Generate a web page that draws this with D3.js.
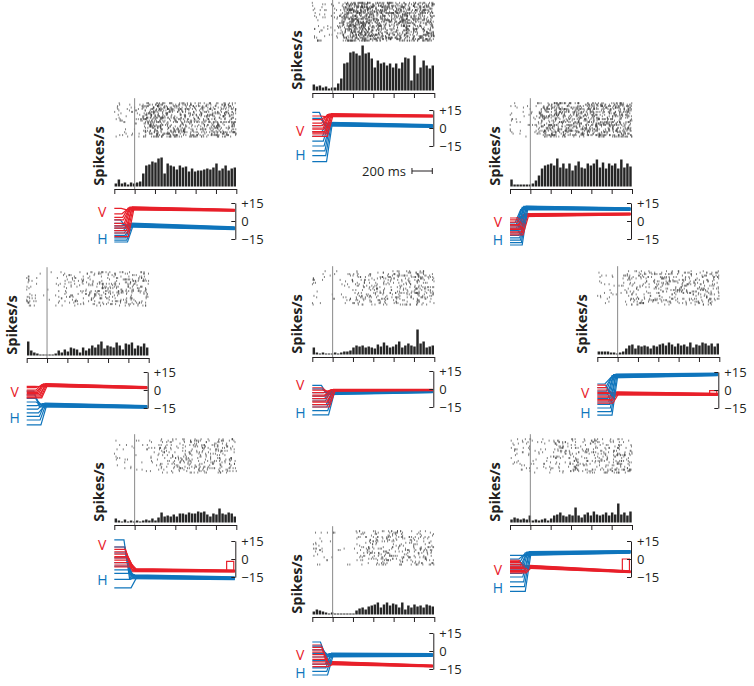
<!DOCTYPE html>
<html>
<head>
<meta charset="utf-8">
<script src="https://cdn.jsdelivr.net/npm/d3@7"></script>
<style>
  body { margin: 0; background: #fff; }
  svg { display: block; font-family: 'Open Sans', sans-serif; }
</style>
</head>
<body>
<div id="chart"></div>
<script>
// ---------------- data ----------------
const timeTicks = [-200, 0, 200, 400, 600, 800, 1000];  // ms, stimulus onset at 0
const binWidth = 30;                                   // ms, 40 bins from -200
const eyeTicks = [-15, 0, 15];                         // deg
const panelNames = ['up', 'ul', 'ur', 'l', 'c', 'r', 'll', 'd', 'lr'];

// PSTH, spikes/s per bin
const rateUp = [12,8,10,6,8,4,6, 6,14,24,54,56,76,78,74,70,90,74,76,64,46,60,54,56,50,54,46,54,44,56,66,64,20,70,34,46,60,50,44,50];
const rateUL = [6,14,6,8,4,8,6, 8,10,26,42,44,50,48,56,58,26,46,42,40,34,42,38,40,30,36,30,32,32,34,36,34,38,46,32,36,42,32,36,38];
const rateUR = [14,4,4,4,4,4,4, 6,12,22,36,42,44,46,42,56,38,46,36,46,32,42,50,38,36,46,42,46,54,38,48,36,46,42,46,36,54,38,46,40];
const rateL  = [28,10,6,4,2,2,2, 2,2,4,10,6,12,8,16,14,12,6,16,10,14,20,16,22,28,14,20,18,16,26,20,12,24,22,26,14,20,18,24,16];
const rateC  = [14,4,2,4,2,2,2, 4,2,4,6,6,8,14,18,16,18,14,16,14,12,20,16,24,18,14,16,20,26,14,18,22,18,16,50,22,26,14,16,18];
const rateR  = [6,6,6,6,4,4,2, 4,6,12,18,20,12,18,16,18,16,12,18,16,20,22,18,24,20,16,22,18,20,16,24,14,20,18,24,22,18,22,16,22];
const rateLL = [8,4,2,6,2,4,2, 4,2,4,6,4,8,4,10,20,12,14,12,16,12,18,18,16,20,18,18,22,20,22,16,12,18,16,28,18,16,20,18,12];
const rateD  = [6,10,8,6,4,2,4, 2,2,2,2,2,2,2,8,12,14,10,16,18,20,24,14,20,24,18,22,20,14,24,10,18,14,20,16,18,14,20,18,16];
const rateLR = [6,10,8,6,8,6,14, 4,6,4,6,8,4,8,14,16,20,14,12,16,14,30,14,10,16,20,14,22,16,14,16,20,14,20,16,38,16,20,14,22];
const rates = [rateUp, rateUL, rateUR, rateL, rateC, rateR, rateLL, rateD, rateLR];

// eye position (deg): vertical (V) and horizontal (H), one entry per panel
const vFinal = [10.8, 10.6, 5, 4.2, -1.4, -2.8, -9.2, -10, -6.4];
const vEnd   = [10, 9, 5.8, 2, -1, -3.6, -10, -12.5, -10.6];
const hFinal = [3.3, -3.3, 11, -12.5, -3, 11.7, -14.7, -3.3, 4.7];
const hEnd   = [1.7, -6, 10, -14, -2, 13, -16, -3.3, 6];
const vTail  = [null, null, null, null, null, -0.5, -2, null, 0];

// pre-saccade eye positions per trial
const vPre = [
  [10, 7, 4, 2, 0, -1, -3, -4, -5, -7],
  [10.5, 6, 3, 1, -2, -4, -6, -8, -10, -13],
  [2.5, 1, -1, -3, -4, -6, -7, -9, -10, -11.5],
  [3, 2, 0, -1, -2, -3, -4, -5, -6, -6.5],
  [1, -1, -3, -5, -6, -8, -10, -11, -13, -15],
  [4, 2, 0, -2, -3, -5, -6, -8, -9, -11],
  [10, 8, 6, 4, 2, 1, -1, -3, -5, -6.5],
  [5, 3, 1, -1, -3, -5, -7, -9, -11, -13],
  [-1, -2, -3, -4.5, -6, -7, -8, -9.5, -10.5, -11.5]
];
const hPre = [
  [13, 8, 2, -3, -7, -11, -15, -19, -23, -28],
  [1, -2, -4, -6, -8, -10, -12, -14, -16, -17.5],
  [-1.5, -4, -6, -8, -10, -12, -14, -16, -18, -20],
  [-1, -4, -7, -10, -13, -16, -19, -22, -25, -29],
  [3, 0, -3, -6, -8, -10, -13, -15, -18, -21.5],
  [5, 2, -1, -4, -7, -10, -12, -15, -18, -21],
  [16, 10, 5, 1, -3, -6, -9, -12, -17, -24],
  [7.5, 4, 1, -2, -5, -8, -11, -14, -17, -20],
  [3, 0, -3, -6, -9, -12, -15, -19, -23, -27]
];
const sacStart = [-150, -142, -135, -127, -120, -112, -104, -96, -88, -80]; // ms, per trial
const sacShift = [20, 10, 0, 20, 40, 25, 45, 30, 30];                         // ms, per panel
const trialJitter = [-1.6, -0.9, 0.4, -0.3, 1.1, 0.7, -1.2, 1.5, 0.1, -0.6]; // deg
const sacDur = 55;

// ---------------- layout ----------------
const totalW = 754, totalH = 686;
const W = 122;
const red = '#e8202a', blue = '#0f75bc', ink = '#231f20';
// x0: left tick, base: time axis y, zoff: eye zero below base
const layout = [
  {x0: 312.3, base: 93,  zoff: 35, trials: 27, vLab: -2.5, hLab: -22.5},
  {x0: 114.3, base: 189, zoff: 32, trials: 24, vLab: 7.5,  hLab: -15},
  {x0: 510,   base: 189, zoff: 32, trials: 24, vLab: -1,   hLab: -16},
  {x0: 26.7,  base: 358, zoff: 32, trials: 24, vLab: -1.7, hLab: -23},
  {x0: 312.3, base: 357, zoff: 32, trials: 24, vLab: 3.3,  hLab: -20},
  {x0: 597.3, base: 357, zoff: 33, trials: 24, vLab: -2.5, hLab: -19.5},
  {x0: 114.3, base: 525, zoff: 34, trials: 24, vLab: 11.7, hLab: -17.5},
  {x0: 312.3, base: 617, zoff: 34, trials: 24, vLab: -3.3, hLab: -18.3},
  {x0: 510,   base: 525, zoff: 34, trials: 24, vLab: -9,   hLab: -24}
];

const svg = d3.select('#chart').append('svg')
  .attr('width', totalW)
  .attr('height', totalH);

// Raster: spike counts per bin come from the PSTH; where each spike sits inside
// its bin is set by a fixed integer hash so the file always draws the same thing.
function hash01(n) {
  n = Math.imul(n ^ (n >>> 16), 0x45d9f3b);
  n = Math.imul(n ^ (n >>> 16), 0x45d9f3b);
  n ^= n >>> 16;
  return (n >>> 0) / 4294967296;
}
function rasterFromRates(rate, nTrials, offset) {
  let spikes = [];
  let k = offset;
  rate.forEach((r, i) => {
    let n = Math.round(r * binWidth / 1000 * nTrials);
    for (let j = 0; j < n; j++, k++) {
      let row = Math.floor(hash01(2 * k + 1) * nTrials);
      let t = -200 + i * binWidth + hash01(2 * k + 7919) * binWidth;
      spikes.push({row, t});
    }
  });
  return spikes;
}

function drawPanel(p, idx) {
  let L = layout[idx];
  let g = svg.append('g').attr('class', 'panel ' + p);
  let xs = d3.scaleLinear().domain([-200, 1000]).range([L.x0, L.x0 + W]);
  let rowH = 1.45;
  let rasterTop = L.base - 52 - L.trials * rowH;
  let histBottom = L.base - 2.5;
  let ys = d3.scaleLinear().domain([0, 100]).range([histBottom, histBottom - 50]);

  // raster
  let spikes = rasterFromRates(rates[idx], L.trials, idx * 1000 + 13);
  g.append('g').selectAll('line')
    .data(spikes)
    .join('line')
      .attr('x1', d => xs(d.t)).attr('x2', d => xs(d.t))
      .attr('y1', d => rasterTop + d.row * rowH)
      .attr('y2', d => rasterTop + d.row * rowH + 2)
      .attr('stroke', '#3a3a3a')
      .attr('stroke-width', 0.65);

  // PSTH bars
  g.append('g').selectAll('rect')
    .data(rates[idx])
    .join('rect')
      .attr('x', (d, i) => xs(-200 + i * binWidth) + 0.3)
      .attr('width', xs(binWidth) - xs(0) - 0.6)
      .attr('y', d => ys(d))
      .attr('height', d => histBottom - ys(d))
      .attr('fill', '#262626');

  // stimulus onset line
  g.append('line')
    .attr('x1', xs(0)).attr('x2', xs(0))
    .attr('y1', rasterTop - 4).attr('y2', L.base)
    .attr('stroke', '#8a8a8a').attr('stroke-width', 1);

  // time axis
  let axis = d3.axisBottom(xs)
    .tickValues(timeTicks)
    .tickFormat('')
    .tickSizeInner(5)
    .tickSizeOuter(0);
  let ax = g.append('g')
    .attr('transform', `translate(0 ${L.base})`)
    .call(axis);
  ax.selectAll('path, line').attr('stroke', ink).attr('stroke-width', 1);

  // y label
  g.append('text')
    .attr('transform', `translate(${L.x0 - 10} ${L.base - 33}) rotate(-90)`)
    .attr('text-anchor', 'middle')
    .style('font-size', '14.5px')
    .style('font-weight', 700)
    .attr('fill', ink)
    .text('Spikes/s');

  // eye traces
  let zero = L.base + L.zoff;
  let ye = d3.scaleLinear().domain([-15, 15]).range([zero + 18, zero - 18]);
  let line = d3.line().x(d => xs(d[0])).y(d => ye(d[1]));
  let tEnd = 985;
  let eg = g.append('g').attr('fill', 'none').attr('stroke-width', 1.2);
  for (let i = 0; i < sacStart.length; i++) {
    let ts = sacStart[i] + sacShift[idx];
    let j = trialJitter[i];
    let hPts = [[-200, hPre[idx][i]], [ts, hPre[idx][i]],
                [ts + sacDur, hFinal[idx] + j], [tEnd, hEnd[idx] + j * 0.7]];
    let vPts = [[-200, vPre[idx][i]], [ts + 8, vPre[idx][i]],
                [ts + 8 + sacDur, vFinal[idx] + j * 0.8]];
    let ve = vEnd[idx] + j * 0.5;
    if (vTail[idx] !== null && i === 2) {
      vPts.push([905, ve], [905, vTail[idx]], [975, vTail[idx]], [975, ve], [tEnd, ve]);
    } else {
      vPts.push([tEnd, ve]);
    }
    eg.append('path').attr('d', line(hPts)).attr('stroke', blue);
    eg.append('path').attr('d', line(vPts)).attr('stroke', red);
  }

  // eye scale bracket
  let eaxis = d3.axisRight(ye)
    .tickValues(eyeTicks)
    .tickSizeInner(-4)
    .tickSizeOuter(0)
    .tickPadding(6)
    .tickFormat(d => d > 0 ? '+' + d : d3.format('')(d));
  let eax = g.append('g')
    .attr('transform', `translate(${L.x0 + W - 1} 0)`)
    .call(eaxis);
  eax.selectAll('path, line').attr('stroke', ink).attr('stroke-width', 1);
  eax.selectAll('text')
    .style('font-size', '13px')
    .style('font-family', "'Open Sans', sans-serif")
    .attr('fill', ink);

  // V / H labels
  g.append('text')
    .attr('x', L.x0 - 12).attr('y', ye(L.vLab))
    .attr('text-anchor', 'middle').attr('dy', '0.36em')
    .style('font-size', '14px').attr('fill', red)
    .text('V');
  g.append('text')
    .attr('x', L.x0 - 12).attr('y', ye(L.hLab))
    .attr('text-anchor', 'middle').attr('dy', '0.36em')
    .style('font-size', '14px').attr('fill', blue)
    .text('H');

  // time scale bar (top panel only)
  if (p === 'up') {
    let right = L.x0 + W - 2;
    let left = right - (xs(200) - xs(0));
    let y = L.base + 78;
    let sb = g.append('g').attr('stroke', ink).attr('stroke-width', 1);
    sb.append('line').attr('x1', left).attr('x2', right).attr('y1', y).attr('y2', y);
    sb.append('line').attr('x1', left).attr('x2', left).attr('y1', y - 3).attr('y2', y + 3);
    sb.append('line').attr('x1', right).attr('x2', right).attr('y1', y - 3).attr('y2', y + 3);
    g.append('text')
      .attr('x', left - 6).attr('y', y).attr('dy', '0.36em')
      .attr('text-anchor', 'end')
      .style('font-size', '13px').attr('fill', ink)
      .text('200 ms');
  }
}

panelNames.forEach(drawPanel);
</script>
</body>
</html>
